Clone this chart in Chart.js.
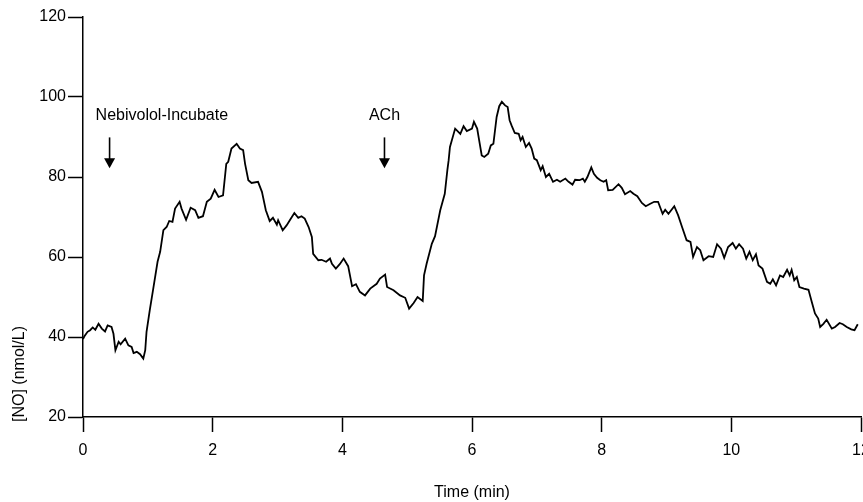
<!DOCTYPE html>
<html><head><meta charset="utf-8">
<script src="https://cdn.jsdelivr.net/npm/chart.js@4.4.0/dist/chart.umd.min.js"></script>
<style>html,body{margin:0;padding:0;background:#fff;overflow:hidden}#wrap{width:863px;height:502px}</style>
</head><body><div id="wrap"><canvas id="c" width="863" height="502"></canvas></div>
<script>
// Time (min)
const times = [0.00,0.03,0.07,0.11,0.15,0.19,0.24,0.29,0.34,0.38,0.44,0.47,0.50,0.55,0.58,0.65,0.70,0.75,0.78,0.83,0.88,0.93,0.96,0.98,
1.03,1.08,1.15,1.19,1.24,1.29,1.33,1.38,1.42,1.49,1.52,1.59,1.66,1.73,1.78,1.85,1.91,1.97,
2.03,2.09,2.16,2.21,2.24,2.29,2.37,2.42,2.47,2.50,2.55,2.60,2.70,2.76,2.82,2.88,2.93,2.99,
3.01,3.08,3.14,3.19,3.26,3.32,3.37,3.42,3.48,3.53,3.55,3.63,3.68,3.75,3.81,3.84,3.90,3.96,
4.02,4.09,4.15,4.21,4.27,4.35,4.43,4.53,4.58,4.66,4.69,4.79,4.89,4.97,
5.03,5.10,5.16,5.24,5.26,5.30,5.38,5.43,5.51,5.58,5.62,5.64,5.66,5.74,5.82,5.87,5.92,
6.00,6.03,6.08,6.11,6.15,6.19,6.25,6.29,6.33,6.38,6.42,6.46,6.51,6.55,6.58,6.61,6.66,6.72,6.75,6.78,6.83,6.88,6.92,6.96,
7.00,7.06,7.09,7.14,7.19,7.25,7.31,7.36,7.44,7.49,7.55,7.59,7.66,7.71,7.74,7.78,7.84,7.88,7.93,7.98,
8.03,8.07,8.10,8.17,8.26,8.31,8.36,8.44,8.49,8.55,8.62,8.68,8.75,8.81,8.87,8.94,8.98,
9.03,9.12,9.18,9.24,9.31,9.37,9.41,9.47,9.52,9.57,9.65,9.72,9.78,9.84,9.89,9.95,
10.02,10.07,10.12,10.18,10.23,10.28,10.33,10.38,10.42,10.48,10.55,10.60,10.64,10.69,10.75,10.80,10.86,10.90,10.93,10.97,
11.01,11.05,11.12,11.19,11.24,11.29,11.34,11.37,11.42,11.47,11.55,11.60,11.67,11.72,11.78,11.85,11.90,11.95];
// [NO] (nmol/L)
const noValues = [39.5,40.4,41.3,41.7,42.4,41.8,43.3,42.1,41.4,42.9,42.5,40.8,36.7,38.8,38.2,39.6,37.9,37.5,36.0,36.3,35.7,34.6,36.7,41.3,
46.7,51.7,58.8,61.3,66.7,67.5,69.0,68.8,72.1,73.8,72.1,69.3,72.3,71.7,69.8,70.2,73.8,74.6,
76.8,75.0,75.4,83.3,83.8,87.1,88.3,87.1,86.7,83.3,79.2,78.5,78.8,76.3,71.7,69.0,69.8,68.1,
69.2,66.7,67.9,69.2,71.0,69.8,70.2,69.6,67.5,65.0,60.8,59.2,59.3,58.8,59.6,58.3,57.1,58.2,
59.6,57.7,52.7,53.2,51.3,50.4,52.1,53.3,54.6,55.6,52.5,51.7,50.4,49.8,
47.1,48.5,50.0,49.0,55.4,58.3,63.3,65.2,71.7,75.8,81.7,84.2,87.5,92.1,90.8,92.7,91.5,
92.1,93.8,92.1,89.2,85.4,85.0,85.8,87.9,88.3,95.0,97.7,98.8,97.9,97.5,94.2,92.9,91.0,90.8,89.2,90.0,87.5,88.5,87.1,84.6,
84.2,81.7,82.7,80.0,80.8,78.8,79.3,78.8,79.6,78.8,78.1,79.3,79.2,79.6,78.8,80.0,82.4,80.8,79.8,79.2,
78.8,79.2,76.7,76.8,78.2,77.3,75.7,76.5,75.8,75.2,73.5,72.7,73.3,73.8,73.8,70.8,71.8,
70.8,72.7,70.4,67.5,64.2,63.8,60.0,62.5,61.7,59.2,60.2,60.0,63.2,62.1,59.8,62.5,
63.5,62.1,63.2,62.1,59.6,61.3,59.2,60.7,57.9,57.1,53.8,53.3,54.4,52.9,55.4,55.0,56.8,55.4,56.8,54.2,
55.0,52.5,52.1,51.8,48.8,45.9,44.6,42.5,43.3,44.3,42.1,42.5,43.5,43.2,42.5,41.9,41.7,43.2];
const xTicks = [0,2,4,6,8,10,12];
const yTicks = [20,40,60,80,100,120];
const annotationLabels = ['Nebivolol-Incubate','ACh'];
const annotationTimes = [0.41,4.65];

const FONT = '"Liberation Sans", Arial, Helvetica, sans-serif';
const points = times.map((t,i)=>({x:t,y:noValues[i]}));

const annot = {
  id:'annot',
  afterDraw(chart){
    const {ctx, scales:{x,y}} = chart;
    ctx.save();
    ctx.fillStyle='#000'; ctx.strokeStyle='#000';
    ctx.font = '16px '+FONT;
    ctx.textBaseline='alphabetic';
    const labelOffsets = [-14, 0];
    const aligns = ['left','center'];
    annotationLabels.forEach((lab,i)=>{
      const ax = x.getPixelForValue(annotationTimes[i]);
      ctx.textAlign = aligns[i];
      ctx.fillText(lab, ax + labelOffsets[i], y.getPixelForValue(94.35));
      const top = y.getPixelForValue(89.9), tip = y.getPixelForValue(82.2);
      ctx.lineWidth = 1.6;
      ctx.beginPath(); ctx.moveTo(ax, top); ctx.lineTo(ax, tip-8); ctx.stroke();
      ctx.beginPath(); ctx.moveTo(ax-5.5, tip-10); ctx.lineTo(ax+5.5, tip-10); ctx.lineTo(ax, tip); ctx.closePath(); ctx.fill();
    });
    ctx.translate(20, 374); ctx.rotate(-Math.PI/2);
    ctx.textAlign='center'; ctx.textBaseline='middle';
    ctx.fillText('[NO] (nmol/L)', 0, 0);
    ctx.restore();
  }
};

new Chart(document.getElementById('c'), {
  type:'line',
  data:{datasets:[{data:points, borderColor:'#000', borderWidth:1.8, pointRadius:0, tension:0, fill:false}]},
  options:{
    responsive:false, animation:false, devicePixelRatio:1,
    layout:{padding:{left:0,right:2,top:17,bottom:0}},
    plugins:{legend:{display:false}, tooltip:{enabled:false}},
    scales:{
      x:{type:'linear', min:0, max:12,
        afterBuildTicks:(s)=>{s.ticks = xTicks.map(v=>({value:v}));},
        afterFit:(s)=>{s.height=85; s.paddingLeft=0; s.paddingRight=0;},
        ticks:{color:'#000', font:{family:FONT,size:16}, padding:9, maxRotation:0, autoSkip:false},
        grid:{drawOnChartArea:false, drawTicks:true, tickLength:15, tickColor:'#000', tickWidth:1.5},
        border:{display:true, color:'#000', width:1.5},
        title:{display:true, text:'Time (min)', color:'#000', font:{family:FONT,size:16}, padding:{top:0,bottom:0}}
      },
      y:{type:'linear', min:20, max:120,
        afterBuildTicks:(s)=>{s.ticks = yTicks.map(v=>({value:v}));},
        afterFit:(s)=>{s.width=83; s.paddingTop=0; s.paddingBottom=0;},
        ticks:{color:'#000', font:{family:FONT,size:16}, padding:2},
        grid:{drawOnChartArea:false, drawTicks:true, tickLength:15, tickColor:'#000', tickWidth:1.5},
        border:{display:true, color:'#000', width:1.5}
      }
    }
  },
  plugins:[annot]
});
</script></body></html>
